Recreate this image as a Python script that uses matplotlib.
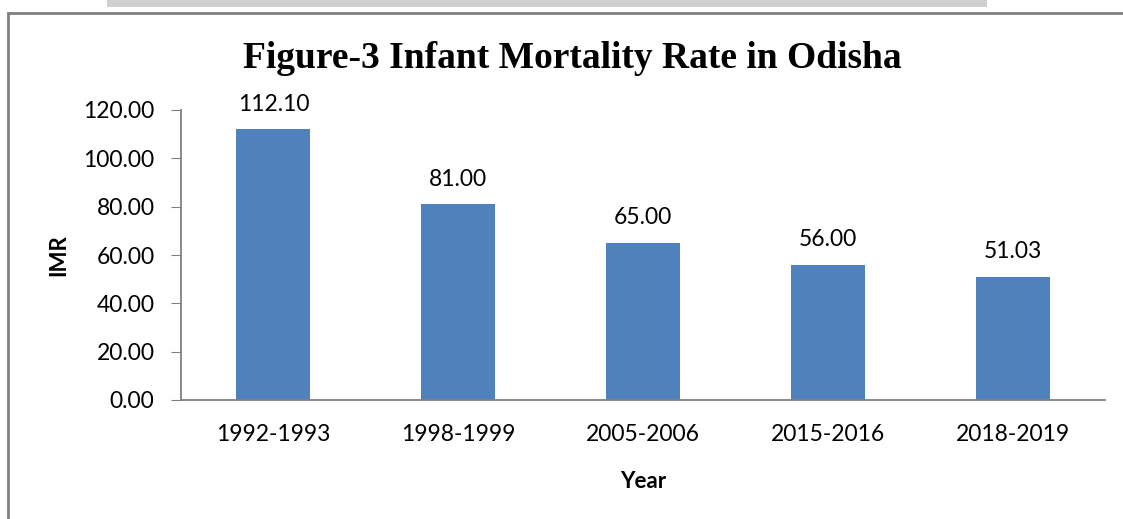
import matplotlib.pyplot as plt
from matplotlib.patches import Rectangle

years = ['1992-1993', '1998-1999', '2005-2006', '2015-2016', '2018-2019']
imr = [112.10, 81.00, 65.00, 56.00, 51.03]
yticks = [0, 20, 40, 60, 80, 100, 120]

plt.rcParams['font.family'] = ['Lato', 'DejaVu Sans']

fig = plt.figure(figsize=(11.23, 5.19), dpi=100)
W, H = 1123, 519

# outer frame and the grey shadow strip above it
fig.patches.append(Rectangle((8 / W, -0.05), 1130 / W, 1 - 13 / H + 0.05,
                             transform=fig.transFigure, fill=False,
                             edgecolor='#808080', lw=2))
fig.patches.append(Rectangle((107 / W, 1 - 7 / H), 880 / W, 7 / H,
                             transform=fig.transFigure, color='#d0d0d0', lw=0))

ax = fig.add_axes([181 / W, 1 - 400 / H, (1105 - 181) / W, 290 / H])
x = range(len(years))
ax.bar(x, imr, width=0.4, color='#4f81bd')
for i, v in enumerate(imr):
    ax.text(i, v + 6, f'{v:.2f}', ha='center', va='bottom', fontsize=16.5)

ax.set_xlim(-0.5, len(years) - 0.5)
ax.set_ylim(0, 120)
ax.set_yticks(yticks)
ax.set_yticklabels([f'{t:.2f}' for t in yticks], fontsize=16.5)
ax.set_xticks(list(x))
ax.set_xticklabels(years, fontsize=16.5)
ax.tick_params(axis='x', length=0, pad=17)
ax.tick_params(axis='y', length=7, color='#808080', pad=12)
for s in ['top', 'right']:
    ax.spines[s].set_visible(False)
for s in ['left', 'bottom']:
    ax.spines[s].set_color('#808080')
    ax.spines[s].set_linewidth(1.3)

ax.set_ylabel('IMR', fontsize=16, fontweight='bold', labelpad=10)
ax.set_xlabel('Year', fontsize=16, fontweight='bold', labelpad=19)

fig.text(572 / W, 1 - 58 / H, 'Figure-3 Infant Mortality Rate in Odisha',
         ha='center', va='center', fontsize=27, fontweight='bold',
         family='Liberation Serif')

fig.savefig('out.png', dpi=100)
